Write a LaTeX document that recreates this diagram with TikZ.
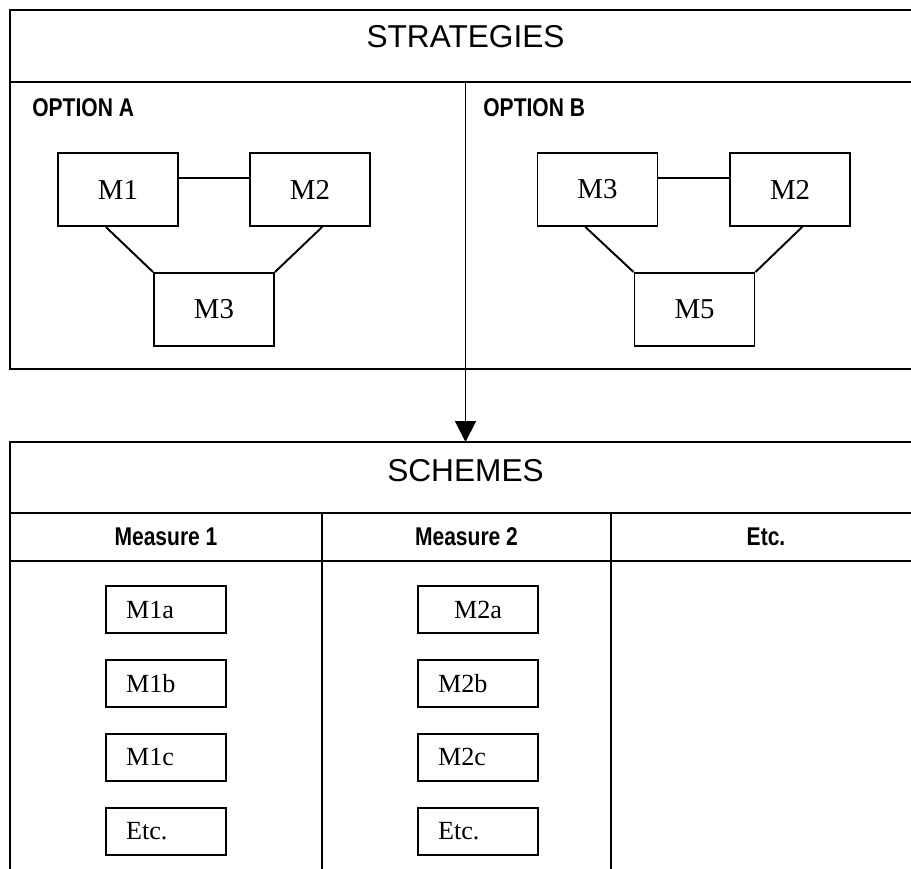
\documentclass[tikz,border=0pt]{standalone}
\usepackage{fontspec}
\setmainfont{Liberation Serif}
\newfontfamily\headfont{Liberation Sans}
\newfontfamily\narrowfont[FakeStretch=0.82]{Liberation Sans}
\usetikzlibrary{arrows.meta}
\usetikzlibrary{positioning}
\tikzstyle{frame} = [draw, line width=1.1pt]
\tikzstyle{module} = [rectangle, draw, line width=1.1pt, minimum width=2.4cm, minimum height=1.46cm, inner sep=0pt, font=\fontsize{16.4}{18}\selectfont]
\tikzstyle{submodule} = [rectangle, draw, line width=1.1pt, minimum width=2.4cm, minimum height=0.94cm, inner xsep=0.4cm, inner ysep=0pt, text width=1.6cm, align=left, font=\fontsize{14.9}{16}\selectfont]
\tikzstyle{title} = [font=\headfont\fontsize{18}{20}\selectfont]
\tikzstyle{option} = [anchor=west, inner sep=0pt, font=\narrowfont\bfseries\fontsize{14.6}{16}\selectfont]
\tikzstyle{colhead} = [font=\narrowfont\bfseries\fontsize{14.6}{16}\selectfont]

\begin{document}
\begin{tikzpicture}[x=0.02cm, y=-0.02cm]
		\useasboundingbox (0,0) rectangle (911,868);
		\clip (0,0) rectangle (911,868);
		% strategies frame
		\draw[frame] (10,10) rectangle (921,369);
		\draw[frame] (10,82) -- (921,82);
		\node[title] (strat) at (465.5,37) {STRATEGIES};
		% option A
		\node[option] (optA) at (32,108) {OPTION A};
		\node[module] (a1) at (118,189.5) {M1};
		\node[module] (a2) at (310,189.5) {M2};
		\node[module] (a3) at (214,309.5) {M3};
		\draw[frame] (a1.11) -- (a2.169);
		\draw[frame] (a1.252) -- (a3.north west);
		\draw[frame] (a2.288) -- (a3.north east);
		% option B
		\node[option] (optB) at (483,108) {OPTION B};
		\node[module] (b1) at (597.5,189.5) {M3};
		\node[module] (b2) at (790,189.5) {M2};
		\node[module] (b3) at (694.5,309.5) {M5};
		\draw[frame] (b1.11) -- (b2.169);
		\draw[frame] (b1.252) -- (b3.north west);
		\draw[frame] (b2.288) -- (b3.north east);
		% flow from strategies to schemes
		\coordinate (split) at (465.5,82);
		\coordinate (entry) at (465.5,442);
		\draw[frame, -{Triangle[length=0.42cm, width=0.42cm]}] (split) -- (entry);
		% schemes frame
		\draw[frame] (10,442) rectangle (921,890);
		\draw[frame] (10,513) -- (921,513);
		\draw[frame] (10,561) -- (921,561);
		\draw[frame] (322,513) -- (322,890);
		\draw[frame] (611,513) -- (611,890);
		\node[title] (schem) at (465.5,471) {SCHEMES};
		\node[colhead] (meas1) at (166,537) {Measure 1};
		\node[colhead] (meas2) at (466.5,537) {Measure 2};
		\node[colhead] (measx) at (766,537) {Etc.};
		% measure 1
		\node[submodule] (m1a) at (166,609.5) {M1a};
		\node[submodule, below=0.5cm of m1a] (m1b) {M1b};
		\node[submodule, below=0.5cm of m1b] (m1c) {M1c};
		\node[submodule, below=0.5cm of m1c] (m1x) {Etc.};
		% measure 2
		\node[submodule, align=center] (m2a) at (478,609.5) {M2a};
		\node[submodule, below=0.5cm of m2a] (m2b) {M2b};
		\node[submodule, below=0.5cm of m2b] (m2c) {M2c};
		\node[submodule, below=0.5cm of m2c] (m2x) {Etc.};
	\end{tikzpicture}
\end{document}
